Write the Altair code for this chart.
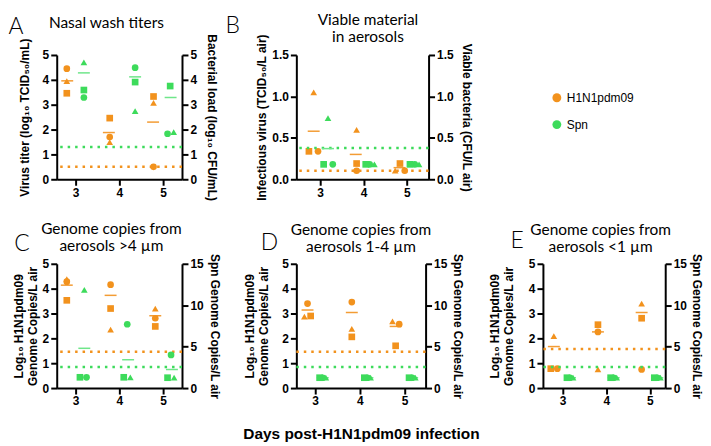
import altair as alt
import pandas as pd

ORANGE = "#F2921D"
GREEN = "#3DDB5B"
ORANGE_MEAN = "#F39C34"
GREEN_MEAN = "#6FE68A"

SERIES = ["H1N1pdm09", "Spn"]
DAYS = [3, 3, 3, 4, 4, 4, 5, 5, 5]
MEAN_DAYS = [3, 4, 5]
SHAPES = ["circle", "square", "triangle-up",
          "circle", "square", "triangle-up",
          "circle", "square", "triangle-up"]
X_TICKS = [3, 4, 5]

# ---- Panel A: nasal wash titers (left: virus, right: bacteria) ----
A_FLU = [4.45, 3.46, 3.95, 1.70, 2.46, 1.49, 0.50, 3.33, 3.07]
A_FLU_DX = [-0.20, -0.20, -0.20, -0.22, -0.22, -0.22, -0.22, -0.22, -0.22]
A_FLU_MEAN = [3.96, 1.88, 2.30]
A_FLU_MEAN_DX = [-0.19, -0.24, -0.23]
A_SPN = [3.29, 3.59, 4.70, 4.49, 3.91, 2.74, 1.83, 3.75, 1.90]
A_SPN_DX = [0.19, 0.19, 0.19, 0.36, 0.36, 0.36, 0.10, 0.16, 0.24]
A_SPN_MEAN = [4.28, 4.12, 3.29]
A_SPN_MEAN_DX = [0.19, 0.36, 0.17]
A_LOD = [0.50, 1.30]

# ---- Panel B: viable material in aerosols ----
B_FLU = [0.337, 0.337, 1.05, 0.103, 0.19, 0.595, 0.103, 0.19, 0.103]
B_FLU_DX = [-0.05, -0.26, -0.15, -0.16, -0.16, -0.16, -0.05, -0.16, -0.27]
B_FLU_MEAN = [0.58, 0.30, 0.14]
B_FLU_MEAN_DX = [-0.15, -0.18, -0.17]
B_SPN = [0.18, 0.18, 0.737, 0.18, 0.18, 0.18, 0.18, 0.18, 0.18]
B_SPN_DX = [0.29, 0.08, 0.18, 0.14, 0.05, 0.25, 0.18, 0.07, 0.28]
B_SPN_MEAN = [0.37, 0.18, 0.18]
B_SPN_MEAN_DX = [0.18, 0.15, 0.17]
B_LOD = [0.103, 0.377]

# ---- Panel C: genome copies, aerosols >4 um ----
C_FLU = [4.28, 3.53, 4.38, 4.16, 3.20, 2.35, 2.81, 2.48, 3.20]
C_FLU_DX = [-0.20, -0.20, -0.20, -0.20, -0.20, -0.20, -0.18, -0.18, -0.18]
C_FLU_MEAN = [4.14, 3.73, 2.91]
C_FLU_MEAN_DX = [-0.20, -0.20, -0.18]
C_SPN = [1.30, 1.30, 11.85, 7.70, 1.30, 1.30, 4.00, 1.25, 1.25]
C_SPN_DX = [0.25, 0.10, 0.20, 0.18, 0.10, 0.25, 0.18, 0.10, 0.25]
C_SPN_MEAN = [4.80, 3.42, 2.24]
C_SPN_MEAN_DX = [0.20, 0.20, 0.20]
C_LOD = [1.46, 2.55]

# ---- Panel D: genome copies, aerosols 1-4 um ----
D_FLU = [3.40, 2.90, 2.87, 3.46, 2.06, 2.38, 2.57, 1.70, 2.68]
D_FLU_DX = [-0.17, -0.10, -0.24, -0.18, -0.18, -0.18, -0.12, -0.20, -0.27]
D_FLU_MEAN = [3.14, 3.04, 2.48]
D_FLU_MEAN_DX = [-0.17, -0.18, -0.20]
D_SPN = [1.25, 1.25, 1.25, 1.25, 1.25, 1.25, 1.25, 1.25, 1.25]
D_SPN_DX = [0.17, 0.10, 0.24, 0.17, 0.10, 0.24, 0.17, 0.10, 0.24]
D_SPN_MEAN = [1.25, 1.25, 1.25]
D_SPN_MEAN_DX = [0.17, 0.17, 0.17]
D_LOD = [1.46, 2.55]

# ---- Panel E: genome copies, aerosols <1 um ----
E_FLU = [0.78, 0.78, 2.09, 2.26, 2.55, 0.75, 0.75, 2.81, 3.40]
E_FLU_DX = [-0.12, -0.27, -0.20, -0.19, -0.19, -0.19, -0.19, -0.19, -0.19]
E_FLU_MEAN = [1.67, 2.26, 3.04]
E_FLU_MEAN_DX = [-0.20, -0.19, -0.19]
E_SPN = [1.25, 1.25, 1.25, 1.25, 1.25, 1.25, 1.25, 1.25, 1.25]
E_SPN_DX = [0.17, 0.10, 0.24, 0.17, 0.10, 0.24, 0.17, 0.10, 0.24]
E_SPN_MEAN = [1.25, 1.25, 1.25]
E_SPN_MEAN_DX = [0.17, 0.17, 0.17]
E_LOD = [1.57, 2.55]

DOT = dict(strokeWidth=2.5, strokeDash=[2.5, 5])


def series_layer(vals, dx, means, mdx, lod, color, mcolor, xenc, yenc):
    pts = pd.DataFrame({"x": [d + o for d, o in zip(DAYS, dx)], "v": vals, "shape": SHAPES})
    mn = pd.DataFrame({"x": [d + o for d, o in zip(MEAN_DAYS, mdx)], "v": means})
    ld = pd.DataFrame({"v": [lod]})
    return alt.layer(
        alt.Chart(ld).mark_rule(color=color, **DOT).encode(y=yenc),
        alt.Chart(mn).mark_tick(orient="horizontal", size=12, thickness=1.5,
                                color=mcolor, opacity=1).encode(x=xenc, y=yenc),
        alt.Chart(pts).mark_point(filled=True, size=45, opacity=1, color=color).encode(
            x=xenc, y=yenc, shape=alt.Shape("shape:N", scale=None)),
    )


def panel(letter, title, flu, spn, lod, xdom, ldom, lvals, rdom, rvals, fmt,
          ltitle, rtitle, w, h, ltp, rtp, lxy, txy, xtitle=None):
    if xtitle:
        xaxis = alt.Axis(values=X_TICKS, format="d", title=xtitle, titleFontSize=15.5,
                         titlePadding=20)
    else:
        xaxis = alt.Axis(values=X_TICKS, format="d", title=None)
    xenc = alt.X("x:Q", scale=alt.Scale(domain=xdom, nice=False, zero=False), axis=xaxis)
    yl = alt.Y("v:Q", scale=alt.Scale(domain=ldom, nice=False),
               axis=alt.Axis(orient="left", values=lvals, format=fmt, title=ltitle,
                             titlePadding=ltp))
    yr = alt.Y("v:Q", scale=alt.Scale(domain=rdom, nice=False),
               axis=alt.Axis(orient="right", values=rvals, format=fmt, title=rtitle,
                             titlePadding=rtp))
    fl = series_layer(flu[0], flu[1], flu[2], flu[3], lod[0], ORANGE, ORANGE_MEAN, xenc, yl)
    sp = series_layer(spn[0], spn[1], spn[2], spn[3], lod[1], GREEN, GREEN_MEAN, xenc, yr)
    deco = alt.Chart(pd.DataFrame({"letter": [letter], "title": [title]}))
    lt = deco.mark_text(fontSize=23, font="Lato", fontWeight=300, align="center",
                        baseline="alphabetic", color="black").encode(
        text="letter:N", x=alt.value(lxy[0]), y=alt.value(lxy[1]))
    tt = deco.mark_text(fontSize=15.5, font="Lato", align="center", baseline="alphabetic",
                        lineBreak="\n", lineHeight=17, color="black").encode(
        text="title:N", x=alt.value(txy[0]), y=alt.value(txy[1]))
    return alt.layer(fl, sp, lt, tt).resolve_scale(y="independent").properties(width=w, height=h)


H = 125
pA = panel("A", "Nasal wash titers",
           (A_FLU, A_FLU_DX, A_FLU_MEAN, A_FLU_MEAN_DX),
           (A_SPN, A_SPN_DX, A_SPN_MEAN, A_SPN_MEAN_DX), A_LOD,
           [2.57, 5.43], [0, 5], [0, 1, 2, 3, 4, 5], [0, 5], [0, 1, 2, 3, 4, 5], "d",
           "Virus titer (log\u2081\u2080 TCID\u2085\u2080/mL)",
           "Bacterial load (log\u2081\u2080 CFU/mL)", 126, H, 11, 8,
           (-41, -21), (50, -27))
pB = panel("B", "Viable material\nin aerosols",
           (B_FLU, B_FLU_DX, B_FLU_MEAN, B_FLU_MEAN_DX),
           (B_SPN, B_SPN_DX, B_SPN_MEAN, B_SPN_MEAN_DX), B_LOD,
           [2.45, 5.5], [0, 1.5], [0, 0.5, 1.0, 1.5], [0, 1.5], [0, 0.5, 1.0, 1.5], ".1f",
           "Infectious virus (TCID\u2085\u2080/L air)",
           "Viable bacteria (CFU/L air)", 133, H, 3, 6,
           (-64, -22), (72, -30))
legend_cell = alt.Chart(pd.DataFrame({"series": SERIES})).mark_circle(opacity=0).encode(
    color=alt.Color("series:N", scale=alt.Scale(domain=SERIES, range=[ORANGE, GREEN]),
                    legend=alt.Legend(title=None, orient="none", legendX=497, legendY=37,
                                      symbolType="circle", symbolSize=80, symbolOpacity=1,
                                      labelFontSize=12, labelFont="Liberation Sans",
                                      labelColor="black", rowPadding=15, labelOffset=4,
                                      padding=0))
).properties(width=122, height=H)
pC = panel("C", "Genome copies from\naerosols >4 \u00b5m",
           (C_FLU, C_FLU_DX, C_FLU_MEAN, C_FLU_MEAN_DX),
           (C_SPN, C_SPN_DX, C_SPN_MEAN, C_SPN_MEAN_DX), C_LOD,
           [2.57, 5.43], [0, 5], [0, 1, 2, 3, 4, 5], [0, 15], [0, 5, 10, 15], "d",
           ["Log\u2081\u2080 H1N1pdm09", "Genome Copies/L air"],
           "Spn Genome Copies/L air", 126, H, 3, 4,
           (-35, -13), (55, -30))
pD = panel("D", "Genome copies from\naerosols 1-4 \u00b5m",
           (D_FLU, D_FLU_DX, D_FLU_MEAN, D_FLU_MEAN_DX),
           (D_SPN, D_SPN_DX, D_SPN_MEAN, D_SPN_MEAN_DX), D_LOD,
           [2.58, 5.47], [0, 5], [0, 1, 2, 3, 4, 5], [0, 15], [0, 5, 10, 15], "d",
           ["Log\u2081\u2080 H1N1pdm09", "Genome Copies/L air"],
           "Spn Genome Copies/L air", 130, H, 11, 4,
           (-27, -14), (65, -29), xtitle="Days post-H1N1pdm09 infection")
pE = panel("E", "Genome copies from\naerosols <1 \u00b5m",
           (E_FLU, E_FLU_DX, E_FLU_MEAN, E_FLU_MEAN_DX),
           (E_SPN, E_SPN_DX, E_SPN_MEAN, E_SPN_MEAN_DX), E_LOD,
           [2.55, 5.35], [0, 5], [0, 1, 2, 3, 4, 5], [0, 15], [0, 5, 10, 15], "d",
           ["Log\u2081\u2080 H1N1pdm09", "Genome Copies/L air"],
           "Spn Genome Copies/L air", 123, H, 13, 3,
           (-26, -16), (58, -29))

chart = alt.concat(pA, pB, legend_cell, pC, pD, pE, columns=3,
                   spacing={"row": 85, "column": 115}, bounds="flush").properties(
    padding={"top": 4, "left": 0, "right": 0, "bottom": 0}
).configure_view(stroke=None).configure_axis(
    domainColor="black", domainWidth=2, tickColor="black", tickWidth=2, tickSize=6,
    labelFont="Liberation Sans", labelFontWeight="bold", labelFontSize=12,
    labelColor="black", labelPadding=2, titleFont="Liberation Sans",
    titleFontWeight="bold", titleFontSize=12, titleColor="black", grid=False,
    titleLineHeight=14, labelOverlap=False, labelFlush=False
)

chart.save("out.html", embed_options={"renderer": "svg", "actions": False})
